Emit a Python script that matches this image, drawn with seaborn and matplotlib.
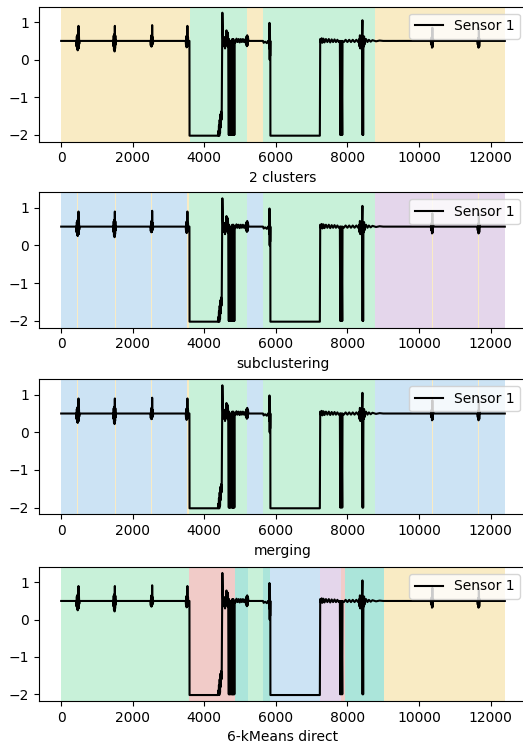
import matplotlib
matplotlib.use("Agg")
import matplotlib.pyplot as plt
import pandas as pd
import seaborn as sns

# Sensor 1 trace as (sample index, value) vertices
sample_idx = [
    0,
    420, 430, 438, 446, 454, 462, 470, 478, 484, 490, 497, 505, 515,
    1450, 1460, 1468, 1476, 1484, 1492, 1500, 1507, 1514, 1522, 1532,
    2495, 2505, 2513, 2521, 2529, 2537, 2543, 2550, 2558, 2566, 2575,
    3480, 3490, 3498, 3506, 3514, 3522, 3528, 3535, 3545, 3555, 3565, 3585, 3588,
    4380, 4390, 4400, 4410, 4420, 4430, 4440, 4450, 4460, 4470, 4480, 4488, 4505, 4515, 4525,
    4540, 4550, 4560, 4570, 4580, 4590, 4600, 4620, 4630, 4640, 4650, 4660, 4670,
    4685, 4692, 4700, 4707, 4720, 4728, 4745, 4775, 4782, 4790, 4797, 4805, 4812, 4822, 4830, 4840, 4848,
    4870, 4900, 4930, 4960, 4990, 5020, 5050, 5080, 5110, 5140, 5170, 5180, 5190, 5200, 5210, 5220, 5235,
    5640, 5660, 5700, 5750, 5780, 5810,
    5815, 5822, 5828, 5834, 5840, 5846, 5848,
    7230, 7240,
    7260, 7280, 7300, 7330, 7360, 7400, 7440, 7480, 7520, 7560, 7600, 7640, 7680, 7720, 7760, 7790,
    7800, 7808, 7828, 7836, 7856, 7864,
    7900, 7950, 8000, 8050, 8100, 8150, 8200, 8250, 8300, 8330,
    8340, 8350, 8360, 8370, 8380, 8390, 8400, 8412, 8420, 8424, 8430, 8440, 8448, 8456, 8466, 8476, 8490,
    8520, 8560, 8600, 8650, 8700, 8800, 8900, 9000,
    10330, 10345, 10355, 10365, 10375, 10385, 10395, 10410,
    11630, 11645, 11655, 11665, 11675, 11685, 11695, 11710,
    12400,
]
sensor_1 = [
    0.50,
    0.50, 0.35, 0.62, 0.28, 0.66, 0.25, 0.70, 0.30, 0.90, 0.30, 0.62, 0.42, 0.50,
    0.50, 0.36, 0.64, 0.26, 0.68, 0.22, 0.90, 0.30, 0.64, 0.40, 0.50,
    0.50, 0.38, 0.62, 0.35, 0.66, 0.36, 0.92, 0.40, 0.60, 0.45, 0.50,
    0.50, 0.38, 0.62, 0.33, 0.65, 0.35, 0.90, 0.38, 0.60, 0.42, 0.50, 0.50, -2.02,
    -2.02, -1.90, -2.02, -1.75, -2.02, -1.60, -1.95, -1.45, -1.80, -1.38, -1.60, -1.35, 1.25, 0.80, 0.50,
    0.40, 0.60, 0.35, 0.55, 0.30, 0.60, 0.45, 0.78, 0.40, 0.60, 0.35, 0.72, 0.40,
    -2.00, 0.55, -2.00, 0.50, -2.00, 0.50, -2.00, -2.00, 0.55, -2.00, 0.50, -2.00, 0.55, -2.00, 0.50, -2.00, 0.50,
    0.46, 0.56, 0.47, 0.55, 0.46, 0.55, 0.47, 0.55, 0.47, 0.54, 0.40, 0.62, 0.36, 0.65, 0.38, 0.60, 0.50,
    0.50, 0.45, 0.48, 0.44, 0.50, 0.50,
    0.30, 0.98, 0.00, 0.90, 0.10, 0.50, -2.02,
    -2.02, 0.55,
    0.46, 0.57, 0.45, 0.56, 0.46, 0.55, 0.47, 0.55, 0.46, 0.54, 0.47, 0.54, 0.47, 0.53, 0.47, 0.50,
    -2.00, 0.50, -2.00, 0.50, -2.00, 0.50,
    0.47, 0.53, 0.47, 0.53, 0.47, 0.53, 0.47, 0.53, 0.47, 0.55,
    0.35, 0.65, 0.30, 0.62, 0.32, 0.60, 0.35, 0.62, 1.05, -2.00, 0.60, -2.00, 0.55, 0.35, 0.62, 0.40, 0.50,
    0.55, 0.47, 0.53, 0.48, 0.52, 0.49, 0.51, 0.50,
    0.50, 0.40, 0.60, 0.32, 0.85, 0.34, 0.55, 0.50,
    0.50, 0.40, 0.58, 0.32, 0.85, 0.35, 0.55, 0.50,
    0.50,
]

# Cluster fill colours
cluster_colors = {
    "yellow": "#f9ebc4",
    "green": "#c8f1d9",
    "blue": "#cce3f4",
    "purple": "#e4d6eb",
    "red": "#f1cbc8",
    "teal": "#abe5da",
}

# Segment edges and cluster of each segment, one pair per panel
edges_2clusters = [0, 3590, 5203, 5650, 8783, 12400]
labels_2clusters = ["yellow", "green", "yellow", "green", "yellow"]

edges_subclustering = [0, 440, 470, 1495, 1525, 2522, 2550, 3530, 3560, 5203, 5650,
                       8783, 10372, 10402, 11660, 11690, 12400]
labels_subclustering = ["blue", "yellow", "blue", "yellow", "blue", "yellow", "blue", "yellow",
                        "green", "blue", "green", "purple", "yellow", "purple", "yellow", "purple"]

edges_merging = edges_subclustering
labels_merging = ["blue", "yellow", "blue", "yellow", "blue", "yellow", "blue", "yellow",
                  "green", "blue", "green", "blue", "yellow", "blue", "yellow", "blue"]

edges_kmeans = [0, 3580, 4867, 5222, 5641, 5830, 7245, 7823, 7944, 9035, 12400]
labels_kmeans = ["green", "red", "teal", "green", "teal", "blue", "purple", "red", "teal", "yellow"]

panel_titles = ["2 clusters", "subclustering", "merging", "6-kMeans direct"]
panel_segments = [
    (edges_2clusters, labels_2clusters),
    (edges_subclustering, labels_subclustering),
    (edges_merging, labels_merging),
    (edges_kmeans, labels_kmeans),
]

trace = pd.DataFrame({"sample": sample_idx, "Sensor 1": sensor_1})

W, H = 523, 744
fig = plt.figure(figsize=(W / 100, H / 100), dpi=100)

# (top, bottom) of each axes in pixels
panel_rows = [(6.7, 141.7), (192.3, 327.7), (379.3, 514.3), (567.0, 701.0)]
ax_left, ax_right = 39.0, 527.0

for (top, bottom), title, (edges, labels) in zip(panel_rows, panel_titles, panel_segments):
    ax = fig.add_axes([ax_left / W, 1 - bottom / H, (ax_right - ax_left) / W, (bottom - top) / H])
    for start, end, lab in zip(edges[:-1], edges[1:], labels):
        ax.axvspan(start, end, color=cluster_colors[lab], lw=0, zorder=0)
    sns.lineplot(data=trace, x="sample", y="Sensor 1", sort=False, estimator=None,
                 color="black", lw=1.5, label="Sensor 1", ax=ax)
    ax.set_xlim(-620, 13020)
    ax.set_ylim(-2.18, 1.41)
    ax.set_yticks([-2, -1, 0, 1])
    ax.set_xticks([0, 2000, 4000, 6000, 8000, 10000, 12000])
    ax.set_xlabel(title)
    ax.set_ylabel("")
    ax.legend(loc="upper right")

fig.savefig("out.png", dpi=100)
